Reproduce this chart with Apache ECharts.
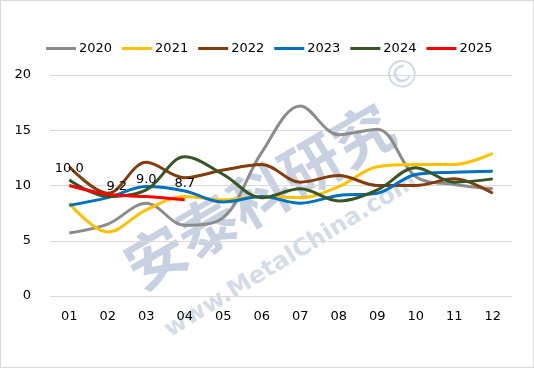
<!DOCTYPE html>
<html><head><meta charset="utf-8">
<script src="https://cdn.jsdelivr.net/npm/echarts@6/dist/echarts.min.js"></script>
<style>html,body{margin:0;padding:0;background:#fff}#c{width:534px;height:368px;box-sizing:border-box;border:1px solid #d9d9d9}</style>
</head><body><div id="c"></div>
<script>
const months = ['01','02','03','04','05','06','07','08','09','10','11','12'];
const s2020 = [5.7,6.5,8.4,6.4,7.1,13.0,17.2,14.6,15.1,10.8,10.1,9.7];
const s2021 = [8.4,5.8,7.8,9.0,8.7,9.0,8.9,9.9,11.7,11.9,11.9,12.9];
const s2022 = [11.7,9.3,12.1,10.7,11.4,11.9,10.3,10.9,10.0,10.0,10.6,9.3];
const s2023 = [8.2,8.9,9.9,9.5,8.5,9.0,8.4,9.1,9.3,11.0,11.2,11.3];
const s2024 = [10.5,9.0,9.6,12.6,11.0,8.9,9.7,8.6,9.6,11.6,10.3,10.6];
const s2025 = [10.0,9.2,9.0,8.7];
const names = ['2020','2021','2022','2023','2024','2025'];
const colors = ['#8c8c8c','#ffc000','#843c0c','#0070c0','#375623','#ff0000'];
const font = 'DejaVu Sans';
const chart = echarts.init(document.getElementById('c'));
const datas = [s2020,s2021,s2022,s2023,s2024,s2025];
const series = datas.map((d,i)=>({
  name: names[i], type:'line',
  data: i===5 ? d.map((v,j)=> j===1 ? {value:v,label:{offset:[9,9]}} : v) : d,
  smooth:0.35,
  symbol: i===5 ? 'circle' : 'none', symbolSize: 0, showSymbol: i===5,
  lineStyle:{width:3,color:colors[i]}, itemStyle:{color:colors[i]},
  label: i===5 ? {show:true,position:'top',distance:10,color:'#000',fontFamily:font,fontSize:13,formatter:p=>p.value.toFixed(1)} : {show:false},
  z: i===5 ? 10 : 2
}));
const wm = 'rgba(100,128,172,0.36)';
chart.setOption({
  animation:false,
  color: colors,
  graphic:[
    {type:'text',x:258,y:195,rotation:0.53,silent:true,z:-1,style:{text:'安泰科研究',font:'bold 60px "Noto Sans CJK SC"',fill:wm,align:'center',verticalAlign:'middle'}},
    {type:'text',x:290,y:255,rotation:0.55,silent:true,z:-1,style:{text:'www.MetalChina.com',font:'bold 24px "DejaVu Sans"',fill:'rgba(100,128,172,0.28)',align:'center',verticalAlign:'middle'}},
    {type:'text',x:403,y:76,rotation:0.53,silent:true,z:-1,style:{text:'©',font:'38px "DejaVu Sans"',fill:'rgba(100,128,172,0.3)',align:'center',verticalAlign:'middle'}}
  ],
  legend:{top:36,left:40,itemWidth:30,itemHeight:3,itemGap:10,icon:'rect',
    textStyle:{fontFamily:font,fontSize:13,color:'#000',padding:[0,0,0,-2]}, data:names},
  grid:{left:49,right:21,top:74,bottom:71},
  xAxis:{type:'category',data:months,boundaryGap:true,
    axisLine:{show:false},axisTick:{show:false},
    axisLabel:{fontFamily:font,fontSize:13,color:'#000',margin:14}},
  yAxis:{type:'value',min:0,max:20,interval:5,
    axisLine:{show:false},axisTick:{show:false},
    splitLine:{lineStyle:{color:'#d9d9d9',width:1}},
    axisLabel:{fontFamily:font,fontSize:13,color:'#000',margin:19}},
  series: series
});
</script></body></html>
